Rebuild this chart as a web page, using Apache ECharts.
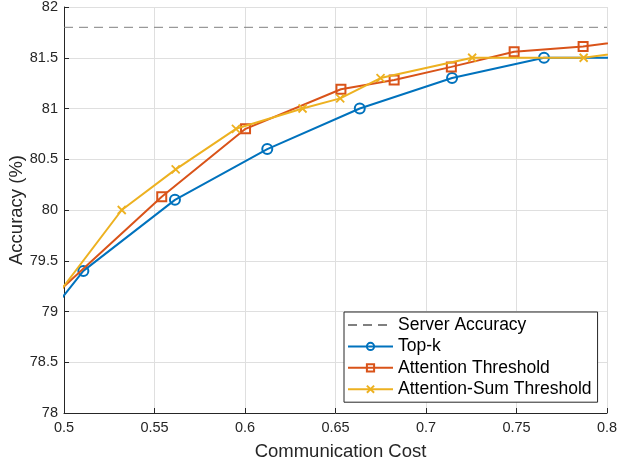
<!DOCTYPE html>
<html>
<head>
<meta charset="utf-8">
<script src="https://cdn.jsdelivr.net/npm/echarts@6/dist/echarts.min.js"></script>
<style>
  html, body { margin: 0; padding: 0; background: #fff; }
  #chart { width: 618px; height: 464px; }
</style>
</head>
<body>
<div id="chart"></div>
<script>
// values; the first/last points lie outside the axis range and get clipped
const serverAccuracy = 81.8
const serverX = [0.5, 0.8]

const topkX = [0.46, 0.5107, 0.5613, 0.6123, 0.6634, 0.7144, 0.7652, 0.816]
const topkY = [78.26, 79.4, 80.1, 80.6, 81.0, 81.3, 81.5, 81.5]

const attnX = [0.48, 0.554, 0.6003, 0.653, 0.6824, 0.7140, 0.7487, 0.7868, 0.82]
const attnY = [78.92, 80.13, 80.8, 81.19, 81.28, 81.41, 81.56, 81.61, 81.69]

const attnSumX = [0.48, 0.5319, 0.5617, 0.595, 0.6318, 0.6526, 0.6749, 0.7255, 0.7871, 0.82]
const attnSumY = [78.78, 80.0, 80.4, 80.8, 81.0, 81.1, 81.3, 81.5, 81.5, 81.58]

const xTicks = { min: 0.5, max: 0.8, step: 0.05 }
const yTicks = { min: 78, max: 82, step: 0.5 }

const zip = (xs, ys) => xs.map((x, i) => [x, ys[i]])

const font = '"Liberation Sans", Arial, Helvetica, sans-serif'
const axisColor = '#262626'
const gridColor = '#dfdfdf'

const chart = echarts.init(document.getElementById('chart'), null, { renderer: 'canvas' })

chart.setOption({
  animation: false,
  backgroundColor: '#fff',
  textStyle: { fontFamily: font },
  grid: { left: 64, right: 11, top: 7, bottom: 51, containLabel: false, outerBoundsMode: 'none' },
  legend: {
    orient: 'vertical',
    left: 344,
    top: 312,
    padding: [4, 6, 4, 3],
    itemGap: 3.4,
    itemWidth: 45,
    itemHeight: 9,
    backgroundColor: '#fff',
    borderColor: axisColor,
    borderWidth: 1,
    borderRadius: 0,
    textStyle: { fontFamily: font, fontSize: 17.5, color: '#000', lineHeight: 18 },
    data: [
      { name: 'Server Accuracy', itemStyle: { opacity: 0 } },
      'Top-k', 'Attention Threshold', 'Attention-Sum Threshold'
    ]
  },
  xAxis: {
    type: 'value',
    min: xTicks.min,
    max: xTicks.max,
    interval: xTicks.step,
    name: 'Communication Cost',
    nameLocation: 'middle',
    nameGap: 29,
    nameMoveOverlap: false,
    nameTextStyle: { fontFamily: font, fontSize: 18.5, color: axisColor, padding: [0, 0, 0, 10] },
    axisLine: { show: true, onZero: false, lineStyle: { color: axisColor, width: 1 } },
    axisTick: { show: true, inside: true, length: 5, lineStyle: { color: axisColor } },
    axisLabel: {
      fontFamily: font, fontSize: 14.5, color: axisColor, margin: 7,
      formatter: v => String(+v.toFixed(2))
    },
    splitLine: { show: true, lineStyle: { color: gridColor, width: 1 } }
  },
  yAxis: {
    type: 'value',
    min: yTicks.min,
    max: yTicks.max,
    interval: yTicks.step,
    name: 'Accuracy (%)',
    nameLocation: 'middle',
    nameGap: 38,
    nameMoveOverlap: false,
    nameTextStyle: { fontFamily: font, fontSize: 18.5, color: axisColor },
    axisLine: { show: true, onZero: false, lineStyle: { color: axisColor, width: 1 } },
    axisTick: { show: true, inside: true, length: 5, lineStyle: { color: axisColor } },
    axisLabel: {
      fontFamily: font, fontSize: 14.5, color: axisColor, margin: 6,
      formatter: v => String(+v.toFixed(1))
    },
    splitLine: { show: true, lineStyle: { color: gridColor, width: 1 } }
  },
  series: [
    {
      name: 'Server Accuracy',
      type: 'line',
      data: serverX.map(x => [x, serverAccuracy]),
      symbol: 'none',
      lineStyle: { color: '#808080', width: 1, type: [9, 6] },
      itemStyle: { color: '#808080' },
      z: 1
    },
    {
      name: 'Top-k',
      type: 'line',
      data: zip(topkX, topkY),
      symbol: 'circle',
      symbolSize: 10,
      lineStyle: { color: '#0072BD', width: 2 },
      itemStyle: { color: 'rgba(255,255,255,0)', borderColor: '#0072BD', borderWidth: 2 },
      z: 2
    },
    {
      name: 'Attention Threshold',
      type: 'line',
      data: zip(attnX, attnY),
      symbol: 'rect',
      symbolSize: 9,
      lineStyle: { color: '#D95319', width: 2 },
      itemStyle: { color: 'rgba(255,255,255,0)', borderColor: '#D95319', borderWidth: 2 },
      z: 3
    },
    {
      name: 'Attention-Sum Threshold',
      type: 'line',
      data: zip(attnSumX, attnSumY),
      symbol: 'path://M0,0L10,10M10,0L0,10',
      symbolSize: 8,
      lineStyle: { color: '#EDB120', width: 2 },
      itemStyle: { color: '#EDB120', borderColor: '#EDB120', borderWidth: 1.8 },
      z: 4
    }
  ]
})
</script>
</body>
</html>
